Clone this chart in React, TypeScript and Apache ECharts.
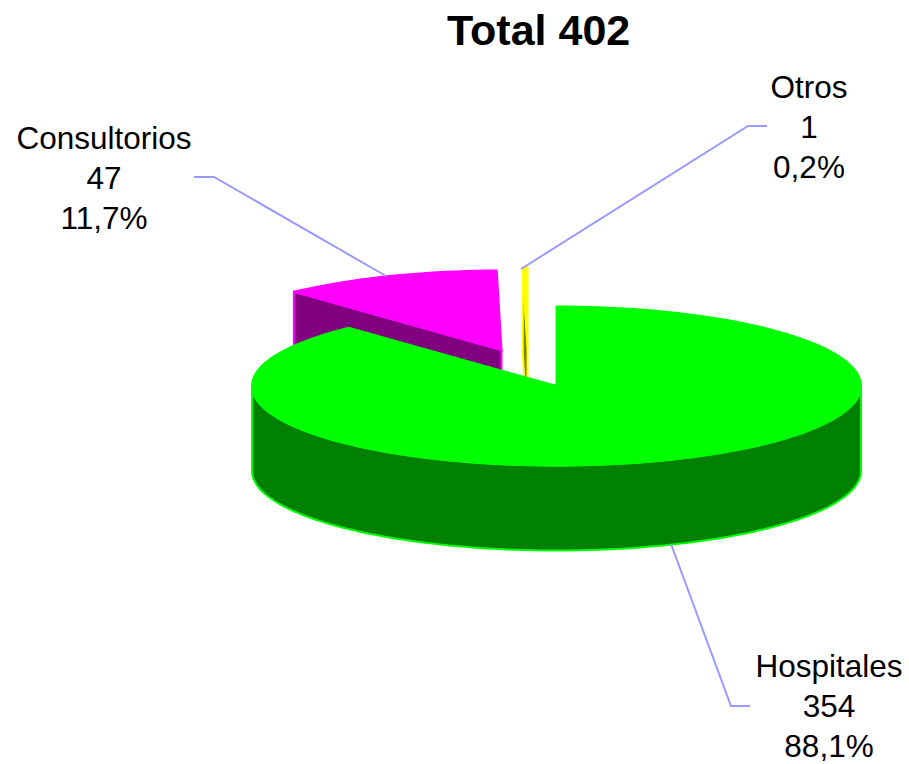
import React, { useEffect, useRef } from "react";
import * as echarts from "echarts";

const categories = ["Hospitales", "Consultorios", "Otros"];
const values = [354, 47, 1];
const topColors = ["#00ff00", "#ff00ff", "#ffff00"];
const sideColors = ["#008000", "#800080", "#808000"];

const total = values.reduce((a, b) => a + b, 0);
const CX = 556.5, CY = 386, RX = 304.5, RY = 79.5, DEPTH = 85;
const offsets = [[0, 0], [-55, -36], [-29, -39]];
const labelPos = [[829, 706], [104, 178], [809, 127]];
const leaders = [
  [[750, 706], [731, 706], [671, 544]],
  [[194, 177], [214, 177], [386, 276]],
  [[767, 126], [748, 126], [521, 269]],
];

const arc = (cx: number, cy: number, from: number, to: number) => {
  const pts: number[][] = [];
  const n = Math.max(2, Math.ceil(Math.abs(to - from) / 2));
  for (let i = 0; i <= n; i++) {
    const a = ((from + ((to - from) * i) / n) * Math.PI) / 180;
    pts.push([cx + RX * Math.sin(a), cy - RY * Math.cos(a)]);
  }
  return pts;
};

export default function App() {
  const ref = useRef<HTMLDivElement>(null);
  useEffect(() => {
    const chart = echarts.init(ref.current!, null, { renderer: "svg" });
    const renderItem = (params: any, api: any) => {
      const i = params.dataIndex;
      const value = api.value(0);
      const before = values.slice(0, i).reduce((a, b) => a + b, 0);
      const start = (before / total) * 360;
      const end = start + (value / total) * 360;
      const cx = CX + offsets[i][0];
      const cy = CY + offsets[i][1];
      const base = (2 - i) * 10 + 1;
      const children: any[] = [];
      const top = topColors[i];
      const side = sideColors[i];
      const faceStyle = { fill: side, stroke: top, lineWidth: 2 };
      if (start > 180) {
        const o = arc(cx, cy, start, start)[0];
        children.push({
          type: "polygon",
          z2: base,
          shape: { points: [[cx, cy], o, [o[0], o[1] + DEPTH], [cx, cy + DEPTH]] },
          style: faceStyle,
        });
      }
      const f0 = Math.max(start, 90), f1 = Math.min(end, 270);
      if (f1 > f0) {
        const upper = arc(cx, cy, f0, f1);
        const lower = upper.map((p) => [p[0], p[1] + DEPTH]).reverse();
        children.push({
          type: "polygon",
          z2: base + 1,
          shape: { points: [...upper, ...lower] },
          style: faceStyle,
        });
      }
      children.push({
        type: "polygon",
        z2: base + 2,
        shape: { points: [[cx, cy], ...arc(cx, cy, start, end)] },
        style: { fill: top, stroke: top, lineWidth: 2 },
      });
      children.push({
        type: "polyline",
        z2: 100,
        shape: { points: leaders[i] },
        style: { fill: "none", stroke: "#9999ff", lineWidth: 2 },
      });
      children.push({
        type: "text",
        z2: 100,
        x: labelPos[i][0],
        y: labelPos[i][1],
        style: {
          text: `${categories[i]}\n${value}\n${((value / total) * 100).toFixed(1).replace(".", ",")}%`,
          fill: "#000",
          font: '31.5px "Liberation Sans"',
          lineHeight: 40,
          align: "center",
          verticalAlign: "middle",
        },
      });
      return { type: "group", children };
    };
    chart.setOption({
      animation: false,
      backgroundColor: "#fff",
      title: {
        text: `Total ${total}`,
        left: 447,
        top: 8,
        textStyle: { fontFamily: "Liberation Sans", fontSize: 43, fontWeight: "bold", color: "#000" },
        padding: 0,
      },
      series: [
        {
          type: "custom",
          coordinateSystem: "none",
          silent: true,
          renderItem,
          data: values.map((v, i) => ({ name: categories[i], value: [v] })),
        },
      ],
    });
    return () => chart.dispose();
  }, []);
  return <div ref={ref} style={{ position: "absolute", left: 0, top: 0, width: 909, height: 764 }} />;
}
